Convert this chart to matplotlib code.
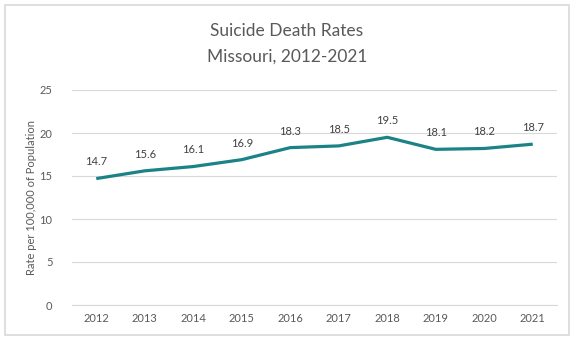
import matplotlib
matplotlib.use("Agg")
import matplotlib.pyplot as plt
from matplotlib.patches import Rectangle

years = ["2012", "2013", "2014", "2015", "2016", "2017", "2018", "2019", "2020", "2021"]
rates = [14.7, 15.6, 16.1, 16.9, 18.3, 18.5, 19.5, 18.1, 18.2, 18.7]
yticks = [0, 5, 10, 15, 20, 25]

plt.rcParams['font.family'] = ['Lato', 'DejaVu Sans']

fig = plt.figure(figsize=(5.74, 3.39), dpi=100)
fig.patches.append(Rectangle((5/574, 4/339), 564/574, 330/339, transform=fig.transFigure,
                             fill=False, edgecolor='#d9d9d9', linewidth=1.2))
ax = fig.add_axes([72/574, 1-305/339, 485/574, 215/339])

x = list(range(len(years)))
ax.plot(x, rates, color='#1b8387', linewidth=2.3, solid_capstyle='butt')
for xi, v in zip(x, rates):
    ax.annotate(f"{v}", (xi, v), xytext=(0, 8), textcoords='offset points',
                ha='center', va='bottom', fontsize=8, color='#404040')

ax.set_xlim(-0.5, len(years) - 0.5)
ax.set_ylim(0, 25)
ax.set_yticks(yticks)
ax.set_xticks(x)
ax.set_xticklabels(years)
ax.tick_params(axis='both', length=0, labelsize=8, colors='#595959')
ax.tick_params(axis='y', pad=14)
ax.tick_params(axis='x', pad=6)
ax.grid(axis='y', color='#d9d9d9', linewidth=0.8)
ax.set_axisbelow(True)
for s in ['top', 'right', 'left']:
    ax.spines[s].set_visible(False)
ax.spines['bottom'].set_color('#d9d9d9')
ax.spines['bottom'].set_linewidth(0.8)

ax.set_ylabel("Rate per 100,000 of Population", fontsize=8, color='#595959', labelpad=2)

fig.text(0.5, 1-31/339, "Suicide Death Rates", ha='center', va='center', fontsize=12.5, color='#595959')
fig.text(0.5, 1-57/339, "Missouri, 2012-2021", ha='center', va='center', fontsize=12.5, color='#595959')

fig.savefig("out.png", dpi=100)
